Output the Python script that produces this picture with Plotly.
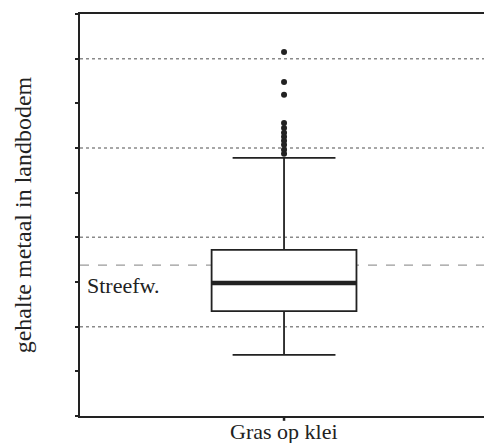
import plotly.graph_objects as go

# ---- data ----
category = ["Gras op klei"]
q1 = [2.35]
median = [2.98]
q3 = [3.72]
lower_whisker = [1.37]
upper_whisker = [5.78]
outliers = [8.15, 7.48, 7.19, 6.56, 6.45, 6.34, 6.25, 6.16, 6.07, 5.96, 5.87]
streefwaarde = 3.38
grid_values = [2, 4, 6, 8]
tick_values = list(range(0, 10))

BOX_W = 0.71
SERIF = "Liberation Serif, Times New Roman, serif"
INK = "#222222"

fig = go.Figure()

fig.add_trace(go.Box(
    x=[0], q1=q1, median=median, q3=q3,
    lowerfence=lower_whisker, upperfence=upper_whisker,
    width=BOX_W, whiskerwidth=0.71,
    line=dict(color=INK, width=1.8), fillcolor="white",
    boxpoints=False, showlegend=False, hoverinfo="skip",
))

# thick median line
fig.add_shape(type="line", xref="x", yref="y",
              x0=-BOX_W / 2, x1=BOX_W / 2, y0=median[0], y1=median[0],
              line=dict(color=INK, width=4.5), layer="above")

# outliers
fig.add_trace(go.Scatter(
    x=[0] * len(outliers), y=outliers, mode="markers",
    marker=dict(color=INK, size=6), showlegend=False, hoverinfo="skip",
))

# dotted gridlines
for g in grid_values:
    fig.add_shape(type="line", xref="paper", yref="y", x0=0, x1=1, y0=g, y1=g,
                  line=dict(color="#8a8a8a", width=1.5, dash="dot"), layer="below")

# dashed target line
fig.add_shape(type="line", xref="paper", yref="y", x0=0, x1=1,
              y0=streefwaarde, y1=streefwaarde,
              line=dict(color="#9a9a9a", width=1.3, dash="dash"), layer="below")
fig.add_annotation(xref="paper", yref="y", x=0, y=streefwaarde, xanchor="left",
                   yanchor="middle", yshift=-20, xshift=5, showarrow=False,
                   text="Streefw.", font=dict(family=SERIF, size=22, color=INK))

# category label and small outward tick under it
for i, cat in enumerate(category):
    fig.add_shape(type="line", xref="x", yref="paper", x0=i, x1=i, y0=0, y1=-0.012,
                  line=dict(color=INK, width=2.5))
    fig.add_annotation(xref="x", yref="paper", x=i, y=0, xanchor="center",
                       yanchor="top", yshift=-1, showarrow=False, text=cat,
                       font=dict(family=SERIF, size=22, color=INK))

fig.update_layout(
    width=484, height=443,
    margin=dict(l=80, r=0, t=14, b=27, autoexpand=False),
    paper_bgcolor="white", plot_bgcolor="white",
    xaxis=dict(range=[-1, 0.98], showgrid=False, zeroline=False, automargin=False,
               showline=True, mirror=True, linecolor=INK, linewidth=2.2,
               showticklabels=False, ticks=""),
    yaxis=dict(range=[0, 9], showgrid=False, zeroline=False, automargin=False,
               showline=True, mirror=False, linecolor=INK, linewidth=2.2,
               tickmode="array", tickvals=tick_values, showticklabels=False,
               ticks="outside", ticklen=3, tickwidth=2, tickcolor=INK,
               title=dict(text="gehalte metaal in landbodem", standoff=37,
                          font=dict(family=SERIF, size=24, color=INK))),
)

fig.write_html(
    "out.html",
    config={"displayModeBar": False},
    post_script="document.body.style.margin='0';document.body.style.overflow='hidden';",
)
